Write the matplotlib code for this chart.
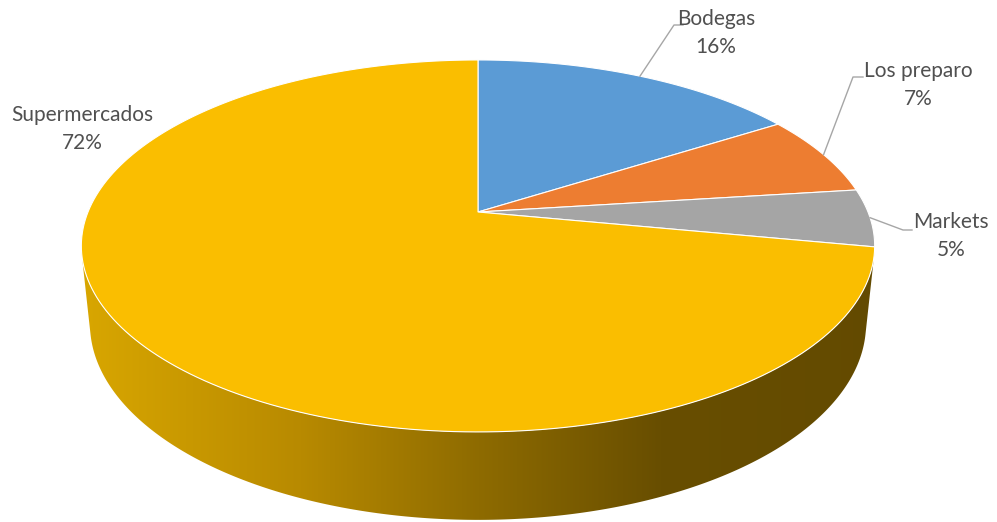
import numpy as np
import matplotlib.pyplot as plt
from matplotlib.patches import Polygon
from matplotlib.colors import to_rgb

# Slice data (clockwise from 12 o'clock)
labels = ['Bodegas', 'Los preparo', 'Markets', 'Supermercados']
values = np.array([16, 7, 5, 72])
colors = ['#5B9BD5', '#ED7D31', '#A5A5A5', '#FABE00']

# label text centres and leader line elbows (pixel coords)
label_pos = [(716, 33), (918, 85), (951, 236), (82, 129)]
leader_elbow = [[(674, 25), (683, 25)], [(853, 77), (863, 77)],
                [(903, 230), (912, 230)], None]

# perspective setup for the 3-D look
CX, CY = 478, 212
F = 390.0
SIN_A, COS_A = 0.461, 0.887
DIST = 4.86
THICK = 0.227


def project(phi, z=0.0):
    x, y = np.cos(phi), np.sin(phi)
    d = 1 + y * COS_A / DIST - z * SIN_A / DIST
    X = CX + F * x / d
    Y = CY - F * (y * SIN_A + z * COS_A) / d
    return X, Y


fig = plt.figure(figsize=(9.97, 5.22), dpi=100)
ax = fig.add_axes([0, 0, 1, 1])
ax.set_xlim(0, 997)
ax.set_ylim(522, 0)
ax.axis('off')

# side wall (only the front of the big slice shows)
s = np.arcsin(-1 / (DIST * COS_A))
phis = np.linspace(np.pi - s, 2 * np.pi + s, 300)
tx, ty = project(phis)
bx, by = project(phis, -THICK)
side = np.column_stack([np.r_[tx, bx[::-1]], np.r_[ty, by[::-1]]])
side_patch = Polygon(side, closed=True, facecolor='none', edgecolor='none')
ax.add_patch(side_patch)

stops_x = [85, 300, 478, 660, 900]
stops_c = ['#D8A600', '#B88A00', '#8E6B00', '#684E00', '#634A00']
cols = np.arange(0, 997)
grad = np.zeros((1, len(cols), 3))
for i in range(3):
    grad[0, :, i] = np.interp(cols, stops_x, [to_rgb(c)[i] for c in stops_c])
im = ax.imshow(grad, extent=(0, 997, 522, 0), aspect='auto', interpolation='bilinear')
im.set_clip_path(side_patch)

# top faces
fracs = values / values.sum()
bounds = np.pi / 2 - 2 * np.pi * np.r_[0, np.cumsum(fracs)]
for i in range(len(values)):
    a = np.linspace(bounds[i], bounds[i + 1], 200)
    px, py = project(a)
    pts = np.column_stack([np.r_[CX, px], np.r_[CY, py]])
    ax.add_patch(Polygon(pts, closed=True, facecolor=colors[i],
                         edgecolor='white', linewidth=0.8, zorder=3))

# labels and leader lines
for i, lab in enumerate(labels):
    pct = f"{values[i] / values.sum() * 100:.0f}%"
    ax.text(label_pos[i][0], label_pos[i][1], f"{lab}\n{pct}", ha='center', va='center',
            fontsize=15, family='Lato', color='#505050', linespacing=1.45, zorder=5)
    if leader_elbow[i] is not None:
        mid = (bounds[i] + bounds[i + 1]) / 2
        mx, my = project(mid)
        lx = [mx] + [p[0] for p in leader_elbow[i]]
        ly = [my] + [p[1] for p in leader_elbow[i]]
        ax.plot(lx, ly, color='#A6A6A6', linewidth=1, zorder=4)

fig.savefig('out.png', dpi=100)
